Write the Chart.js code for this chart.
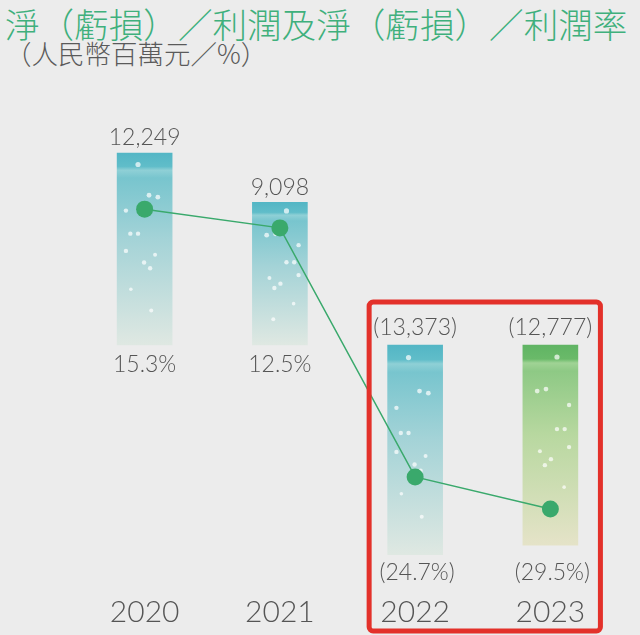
<!DOCTYPE html>
<html>
<head>
<meta charset="utf-8">
<script src="https://cdn.jsdelivr.net/npm/chart.js@4.4.1/dist/chart.umd.min.js"></script>
<style>
  body { margin: 0; background: #ececec; }
  #wrap { position: relative; width: 640px; height: 635px; }
  #title, #subtitle {
    position: absolute; left: 5px; white-space: nowrap;
    font-family: "Noto Sans CJK TC", "Noto Sans CJK SC", sans-serif; font-weight: 300;
  }
  #title { top: 6px; font-size: 34.6px; line-height: 35px; color: #3fb07c; }
  #subtitle { top: 39px; font-size: 26.5px; line-height: 27px; color: #5a5a5a; }
  canvas { position: absolute; left: 0; top: 0; }
</style>
</head>
<body>
<div id="wrap">
  <div id="title">淨（虧損）／利潤及淨（虧損）／利潤率</div>
  <div id="subtitle">（人民幣百萬元／%）</div>
  <canvas id="chart" width="640" height="635"></canvas>
</div>
<script>
var years = ['2020', '2021', '2022', '2023'];
var profit = [12249, 9098, -13373, -12777];
var margin = [15.3, 12.5, -24.7, -29.5];
var highlighted = ['2022', '2023'];

var TEAL = [[0, '#53b6c5'], [0.07, '#60bdc9'], [0.09, '#8fd0d6'], [0.13, '#78c5ce'], [0.45, '#a4d3d7'], [1, '#dfe8e2']];
var GREEN = [[0, '#60b464'], [0.07, '#6aba69'], [0.09, '#a0d395'], [0.13, '#8ec985'], [0.45, '#b8d8a0'], [1, '#e5e3c8']];
var textGrey = '#555555';
var labelFont = '300 23px Lato, "Open Sans", sans-serif';
// decorative bubbles inside each bar, as fractions of the bar box
var bubbles = [[0.38, 0.06, 2.6], [0.58, 0.22, 2.4], [0.74, 0.23, 2.4], [0.16, 0.3, 2.2], [0.24, 0.42, 2.2],
  [0.38, 0.42, 2.2], [0.16, 0.51, 2.2], [0.69, 0.53, 2], [0.49, 0.57, 2.2], [0.6, 0.6, 2.2],
  [0.25, 0.71, 1.8], [0.62, 0.82, 2]];

var fmtAmount = function (v) {
  var s = Math.abs(v).toLocaleString('en-US');
  return v < 0 ? '(' + s + ')' : s;
};
var fmtPct = function (v) {
  var s = Math.abs(v).toFixed(1) + '%';
  return v < 0 ? '(' + s + ')' : s;
};

var barFill = function (context) {
  var chart = context.chart;
  var stops = context.dataIndex === 3 ? GREEN : TEAL;
  if (!chart.chartArea) return stops[0][1];
  var y = chart.scales.y;
  var v = profit[context.dataIndex];
  var top = y.getPixelForValue(Math.max(v, 0));
  var bottom = y.getPixelForValue(Math.min(v, 0));
  var g = chart.ctx.createLinearGradient(0, top, 0, bottom);
  stops.forEach(function (s) { g.addColorStop(s[0], s[1]); });
  return g;
};

var bubblePlugin = {
  id: 'bubbles',
  beforeDatasetDraw: function (chart, args) {
    if (args.index !== 0) return;
    var ctx = chart.ctx;
    ctx.save();
    ctx.fillStyle = 'rgba(255,255,255,0.7)';
    chart.getDatasetMeta(1).data.forEach(function (bar, i) {
      var top = Math.min(bar.y, bar.base);
      var h = Math.abs(bar.base - bar.y);
      var w = bar.width;
      bubbles.forEach(function (b) {
        var fx = i % 2 ? 1 - b[0] : b[0];
        ctx.beginPath();
        ctx.arc(bar.x - w / 2 + fx * w, top + b[1] * h, b[2], 0, Math.PI * 2);
        ctx.fill();
      });
    });
    ctx.restore();
  }
};

var labelsPlugin = {
  id: 'labels',
  afterDatasetsDraw: function (chart) {
    var ctx = chart.ctx;
    var bars = chart.getDatasetMeta(1).data;
    var y = chart.scales.y;
    var zero = y.getPixelForValue(0);
    var lowest = y.getPixelForValue(Math.min.apply(null, profit));
    ctx.save();
    ctx.fillStyle = textGrey;
    ctx.font = labelFont;
    ctx.textAlign = 'center';
    ctx.textBaseline = 'middle';
    bars.forEach(function (bar, i) {
      var v = profit[i];
      if (v >= 0) {
        ctx.fillText(fmtAmount(v), bar.x, bar.y - 15);
        ctx.fillText(fmtPct(margin[i]), bar.x, zero + 20);
      } else {
        ctx.fillText(fmtAmount(v), bar.x, zero - 17);
        ctx.fillText(fmtPct(margin[i]), bar.x + 2, lowest + 18);
      }
    });
    // year labels under the bars
    ctx.font = '300 30px Lato, "Open Sans", sans-serif';
    years.forEach(function (yr, i) {
      ctx.fillText(yr, chart.scales.x.getPixelForValue(i), 612);
    });
    ctx.restore();
  }
};

var highlightPlugin = {
  id: 'highlight',
  afterDraw: function (chart) {
    var x = chart.scales.x;
    var zero = chart.scales.y.getPixelForValue(0);
    var first = years.indexOf(highlighted[0]);
    var last = years.indexOf(highlighted[highlighted.length - 1]);
    var step = x.getPixelForValue(1) - x.getPixelForValue(0);
    var left = x.getPixelForValue(first) - step * 0.34;
    var right = x.getPixelForValue(last) + step * 0.37;
    var top = zero - 43;
    var bottom = chart.height - 4;
    var ctx = chart.ctx;
    ctx.save();
    ctx.strokeStyle = '#e3312a';
    ctx.lineWidth = 5;
    ctx.beginPath();
    ctx.roundRect(left, top, right - left, bottom - top, 4);
    ctx.stroke();
    ctx.restore();
  }
};

var config = {
  type: 'bar',
  data: {
    labels: years,
    datasets: [{
      type: 'line',
      data: margin,
      yAxisID: 'y1',
      order: 0,
      borderColor: '#3aa96c',
      borderWidth: 1.5,
      pointRadius: 8.5,
      pointHoverRadius: 8.5,
      pointBackgroundColor: '#3aa96c',
      pointBorderWidth: 0,
      tension: 0
    }, {
      data: profit,
      yAxisID: 'y',
      order: 1,
      backgroundColor: barFill,
      borderWidth: 0,
      barThickness: 55
    }]
  },
  options: {
    responsive: false,
    animation: false,
    layout: {
      padding: { left: 77, right: 22, top: 100, bottom: 35 }
    },
    plugins: {
      legend: { display: false },
      tooltip: { enabled: false }
    },
    scales: {
      x: { display: false },
      y: { display: false, min: -16270, max: 15630 },
      y1: { display: false, min: -43.08, max: 31.6 }
    }
  },
  plugins: [bubblePlugin, labelsPlugin, highlightPlugin]
};

window.onload = function () {
  var ctx = document.getElementById('chart');
  window.myChart = new Chart(ctx, config);
};
</script>
</body>
</html>
